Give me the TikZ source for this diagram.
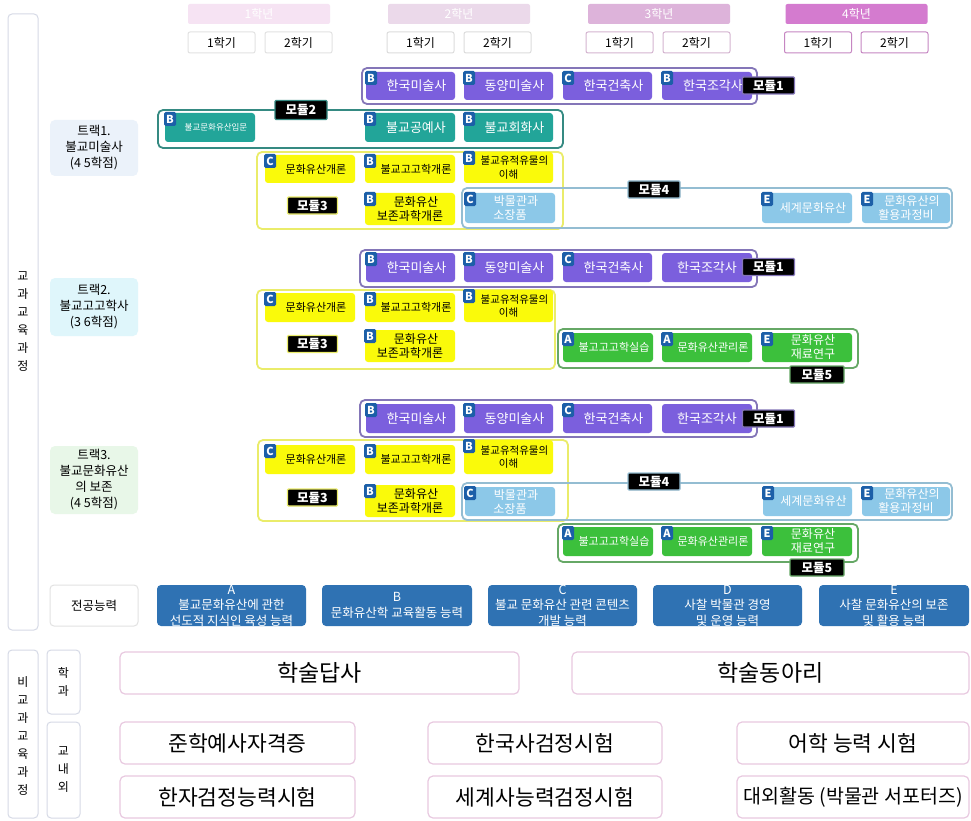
\documentclass[tikz,border=0pt]{standalone}
\usepackage{fontspec}
\setmainfont{Noto Sans CJK KR}
\definecolor{purC}{HTML}{7B5FDD}
\definecolor{purL}{HTML}{8476B8}
\definecolor{tealC}{HTML}{22A599}
\definecolor{tealL}{HTML}{358A82}
\definecolor{yelC}{HTML}{FAFA0A}
\definecolor{yelL}{HTML}{EAEC6A}
\definecolor{lbC}{HTML}{8CC8E8}
\definecolor{lbL}{HTML}{94BDD2}
\definecolor{grnC}{HTML}{3CC03C}
\definecolor{grnL}{HTML}{66A866}
\definecolor{bdgC}{HTML}{1C5FA8}
\definecolor{cmpC}{HTML}{2F72B3}
\definecolor{pinkL}{HTML}{E8C9E0}
\definecolor{grayL}{HTML}{D6DAE6}
\definecolor{yA}{HTML}{F6E3F3}
\definecolor{yB}{HTML}{EBD9EA}
\definecolor{yC}{HTML}{DDB3DA}
\definecolor{yD}{HTML}{D47BCF}
\definecolor{sA}{HTML}{E2E2E2}
\definecolor{sB}{HTML}{DCDCDC}
\definecolor{sC}{HTML}{D4B4D0}
\definecolor{sD}{HTML}{C686C2}
\definecolor{tA}{HTML}{EBF2FA}
\definecolor{tB}{HTML}{DFF6FB}
\definecolor{tC}{HTML}{E8F7E8}
\newcommand\crs[7]{\node[#2, minimum width={(#5-#3)*1pt}, minimum height={(#6-#4)*1pt}] (#1) at ({(#3+#5)/2},{(#4+#6)/2}) {#7};}
\newcommand\bdg[2]{\node[badgebox] (#1b) at ([xshift=-1pt,yshift=1pt]#1.north west) {#2};}
\newcommand\pd[1]{\hspace*{12pt}#1}
\tikzset{
  crsbase/.style={rounded corners=3pt, inner sep=0pt, align=center, font=\fontsize{13}{15}\selectfont},
  crsp/.style={crsbase, fill=purC, text=white},
  crst/.style={crsbase, fill=tealC, text=white},
  crsy/.style={crsbase, fill=yelC, text=black, font=\fontsize{12.5}{14}\selectfont},
  crsl/.style={crsbase, fill=lbC, text=white, font=\fontsize{12}{14}\selectfont},
  crsg/.style={crsbase, fill=grnC, text=white, font=\fontsize{12.5}{14}\selectfont},
  two/.style={font=\fontsize{12}{14}\selectfont},
  sm/.style={font=\fontsize{11}{13}\selectfont},
  xs/.style={font=\fontsize{10.5}{13.5}\selectfont},
  modbox/.style={rounded corners=5pt, line width=1.8pt, inner sep=0pt},
  modlab/.style={fill=black, text=white, line width=1.2pt, rounded corners=1pt, inner sep=0pt, minimum width=52pt, minimum height=17pt, font=\fontsize{12.5}{13}\selectfont\bfseries},
  badgebox/.style={anchor=north west, fill=bdgC, text=white, inner sep=0pt, minimum width=12pt, minimum height=14pt, rounded corners=1.5pt, font=\fontsize{11}{11}\selectfont\bfseries},
  yrhead/.style={rounded corners=2pt, inner sep=0pt, minimum width=142pt, minimum height=20pt, text=white, font=\fontsize{12}{13}\selectfont},
  sem/.style={rounded corners=2pt, inner sep=0pt, minimum width=67pt, minimum height=21pt, fill=white, line width=1pt, font=\fontsize{12}{13}\selectfont},
  trk/.style={rounded corners=5pt, inner sep=0pt, align=center, font=\fontsize{12.5}{16}\selectfont},
  outer/.style={draw=grayL, line width=1pt, rounded corners=4pt, inner sep=0pt, fill=white},
  vtext/.style={align=center, inner sep=0pt, font=\fontsize{12}{18}\selectfont},
  cmp/.style={fill=cmpC, rounded corners=4pt, inner sep=0pt},
  cmptxt/.style={align=center, inner sep=0pt, text=white, font=\fontsize{12.5}{15.5}\selectfont},
  pbox/.style={draw=pinkL, line width=1.2pt, rounded corners=5pt, inner sep=0pt, fill=white},
}
\begin{document}
\begin{tikzpicture}[x=1pt,y=-1pt]
\useasboundingbox[fill=white] (0,0) rectangle (971,821);
% left frames
\crs{lf1}{outer}{8}{14}{38}{630}{}
\node[vtext] (lf1t) at (23,322) {교\\과\\교\\육\\과\\정};
\crs{lf2}{outer}{8}{650}{38}{818}{}
\node[vtext] (lf2t) at (23,736) {비\\교\\과\\교\\육\\과\\정};
\crs{lf3}{outer}{47}{650}{80}{714}{}
\node[vtext] (lf3t) at (63.5,682) {학\\과};
\crs{lf4}{outer}{47}{722}{80}{818}{}
\node[vtext] (lf4t) at (63.5,770) {교\\내\\외};
% header
\node[yrhead, fill=yA] (y1) at (259,14) {1학년};
\node[yrhead, fill=yB] (y2) at (459,14) {2학년};
\node[yrhead, fill=yC] (y3) at (659,14) {3학년};
\node[yrhead, fill=yD] (y4) at (856.5,14) {4학년};
\node[sem, draw=sA] (y1a) at (221.5,42.5) {1학기};
\node[sem, draw=sA] (y1b) at (298.5,42.5) {2학기};
\node[sem, draw=sB] (y2a) at (420.5,42.5) {1학기};
\node[sem, draw=sB] (y2b) at (497.5,42.5) {2학기};
\node[sem, draw=sC] (y3a) at (619.5,42.5) {1학기};
\node[sem, draw=sC] (y3b) at (696.5,42.5) {2학기};
\node[sem, draw=sD] (y4a) at (818,42.5) {1학기};
\node[sem, draw=sD] (y4b) at (894.5,42.5) {2학기};
% track labels
\crs{tr1}{trk, fill=tA}{50}{120}{138}{176}{트랙1.\\불교미술사\\(4 5학점)}
\crs{tr2}{trk, fill=tB}{50}{278}{138}{336}{트랙2.\\불교고고학사\\(3 6학점)}
\crs{tr3}{trk, fill=tC}{50}{446}{138}{514}{트랙3.\\불교문화유산\\의 보존\\(4 5학점)}

%%%%% TRACK 1
\crs{a1}{modbox, draw=purL}{362}{68}{757}{104}{}
\crs{a2}{modbox, draw=tealL}{158}{110}{563}{148}{}
\crs{a3}{modbox, draw=yelL}{257}{152}{563}{229}{}
\crs{a4}{modbox, draw=lbL}{462}{188}{952}{228}{}
\crs{a1c1}{crsp}{366}{72}{455}{100}{\pd{한국미술사}}\bdg{a1c1}{B}
\crs{a1c2}{crsp}{464}{72}{553}{100}{\pd{동양미술사}}\bdg{a1c2}{B}
\crs{a1c3}{crsp}{563}{72}{652}{100}{\pd{한국건축사}}\bdg{a1c3}{C}
\crs{a1c4}{crsp}{662}{72}{752}{100}{\pd{한국조각사}}\bdg{a1c4}{B}
\crs{a2c1}{crst, font=\fontsize{8.5}{10}\selectfont}{165}{113}{255}{142}{\pd{불교문화유산입문}}\bdg{a2c1}{B}
\crs{a2c2}{crst}{365}{113}{455}{142}{\pd{불교공예사}}\bdg{a2c2}{B}
\crs{a2c3}{crst}{464}{113}{553}{142}{\pd{불교회화사}}\bdg{a2c3}{B}
\crs{a3c1}{crsy, sm}{265}{155}{355}{183}{\pd{문화유산개론}}\bdg{a3c1}{C}
\crs{a3c2}{crsy, sm}{365}{155}{455}{183}{\pd{불교고고학개론}}\bdg{a3c2}{B}
\crs{a3c3}{crsy, xs}{464}{152}{553}{183}{\pd{불교유적유물의}\\이해}\bdg{a3c3}{B}
\crs{a3c4}{crsy, two}{365}{193}{455}{225}{\pd{문화유산}\\보존과학개론}\bdg{a3c4}{B}
\crs{a4c1}{crsl}{465}{193}{555}{223}{\pd{박물관과}\\소장품}\bdg{a4c1}{C}
\crs{a4c2}{crsl}{762}{193}{852}{223}{\pd{세계문화유산}}\bdg{a4c2}{E}
\crs{a4c3}{crsl}{862}{193}{950}{223}{\pd{문화유산의}\\활용과정비}\bdg{a4c3}{E}
\node[modlab, draw=purL] (a1l) at (768.5,85.5) {모듈1};
\node[modlab, draw=tealL, minimum height=19pt] (a2l) at (301,110) {모듈2};
\node[modlab, draw=yelL, minimum width=50pt] (a3l) at (312.5,205.5) {모듈3};
\node[modlab, draw=lbL] (a4l) at (654,189.5) {모듈4};

%%%%% TRACK 2
\crs{b1}{modbox, draw=purL}{360}{250}{757}{287}{}
\crs{b3}{modbox, draw=yelL}{257}{290}{555}{369}{}
\crs{b5}{modbox, draw=grnL}{558}{329}{858}{368}{}
\crs{b1c1}{crsp}{366}{253}{455}{282}{\pd{한국미술사}}\bdg{b1c1}{B}
\crs{b1c2}{crsp}{464}{253}{553}{282}{\pd{동양미술사}}\bdg{b1c2}{B}
\crs{b1c3}{crsp}{563}{253}{652}{282}{\pd{한국건축사}}\bdg{b1c3}{C}
\crs{b1c4}{crsp}{662}{253}{752}{282}{한국조각사}
\crs{b3c1}{crsy, sm}{265}{293}{355}{322}{\pd{문화유산개론}}\bdg{b3c1}{C}
\crs{b3c2}{crsy, sm}{365}{293}{455}{322}{\pd{불교고고학개론}}\bdg{b3c2}{B}
\crs{b3c3}{crsy, xs}{464}{290}{553}{322}{\pd{불교유적유물의}\\이해}\bdg{b3c3}{B}
\crs{b3c4}{crsy, two}{365}{330}{455}{362}{\pd{문화유산}\\보존과학개론}\bdg{b3c4}{B}
\crs{b5c1}{crsg, sm}{563}{333}{653}{362}{\pd{불고고고학실습}}\bdg{b5c1}{A}
\crs{b5c2}{crsg, sm}{662}{333}{752}{362}{\pd{문화유산관리론}}\bdg{b5c2}{A}
\crs{b5c3}{crsg, two}{762}{333}{852}{362}{\pd{문화유산}\\\pd{재료연구}}\bdg{b5c3}{E}
\node[modlab, draw=purL] (b1l) at (768.5,267) {모듈1};
\node[modlab, draw=yelL, minimum width=50pt] (b3l) at (312.5,344) {모듈3};
\node[modlab, draw=grnL, minimum width=54pt] (b5l) at (817,374.5) {모듈5};

%%%%% TRACK 3
\crs{c1}{modbox, draw=purL}{360}{400}{757}{437}{}
\crs{c3}{modbox, draw=yelL}{258}{440}{568}{521}{}
\crs{c4}{modbox, draw=lbL}{462}{483}{952}{520}{}
\crs{c5}{modbox, draw=grnL}{558}{524}{858}{562}{}
\crs{c1c1}{crsp}{366}{404}{455}{433}{\pd{한국미술사}}\bdg{c1c1}{B}
\crs{c1c2}{crsp}{464}{404}{553}{433}{\pd{동양미술사}}\bdg{c1c2}{B}
\crs{c1c3}{crsp}{563}{404}{652}{433}{\pd{한국건축사}}\bdg{c1c3}{C}
\crs{c1c4}{crsp}{662}{404}{752}{433}{한국조각사}
\crs{c3c1}{crsy, sm}{265}{445}{355}{474}{\pd{문화유산개론}}\bdg{c3c1}{C}
\crs{c3c2}{crsy, sm}{365}{445}{455}{474}{\pd{불교고고학개론}}\bdg{c3c2}{B}
\crs{c3c3}{crsy, xs}{464}{440}{553}{474}{\pd{불교유적유물의}\\이해}\bdg{c3c3}{B}
\crs{c3c4}{crsy, two}{365}{485}{455}{517}{\pd{문화유산}\\보존과학개론}\bdg{c3c4}{B}
\crs{c4c1}{crsl}{465}{487}{555}{516}{\pd{박물관과}\\소장품}\bdg{c4c1}{C}
\crs{c4c2}{crsl}{763}{487}{852}{516}{\pd{세계문화유산}}\bdg{c4c2}{E}
\crs{c4c3}{crsl}{862}{487}{950}{516}{\pd{문화유산의}\\활용과정비}\bdg{c4c3}{E}
\crs{c5c1}{crsg, sm}{563}{527}{653}{556}{\pd{불고고고학실습}}\bdg{c5c1}{A}
\crs{c5c2}{crsg, sm}{662}{527}{752}{556}{\pd{문화유산관리론}}\bdg{c5c2}{A}
\crs{c5c3}{crsg, two}{762}{527}{852}{556}{\pd{문화유산}\\\pd{재료연구}}\bdg{c5c3}{E}
\node[modlab, draw=purL] (c1l) at (768.5,418.5) {모듈1};
\node[modlab, draw=yelL, minimum width=50pt] (c3l) at (312.5,497.5) {모듈3};
\node[modlab, draw=lbL] (c4l) at (654,481.5) {모듈4};
\node[modlab, draw=grnL, minimum width=54pt] (c5l) at (817,567.5) {모듈5};

%%%%% competencies
\crs{cmp0}{outer, draw=sA, font=\fontsize{12.5}{14}\selectfont}{50}{585}{138}{626}{전공능력}
\crs{cmpA}{cmp, path picture={\node[cmptxt] (cmpAt) at (path picture bounding box.center) {A\\불교문화유산에 관한\\선도적 지식인 육성 능력};}}{157}{585}{306}{626}{}
\crs{cmpB}{cmp, path picture={\node[cmptxt] (cmpBt) at (path picture bounding box.center) {B\\문화유산학 교육활동 능력};}}{322}{585}{472}{626}{}
\crs{cmpC}{cmp, path picture={\node[cmptxt] (cmpCt) at (path picture bounding box.center) {C\\불교 문화유산 관련 콘텐츠\\개발 능력};}}{488}{585}{637}{626}{}
\crs{cmpD}{cmp, path picture={\node[cmptxt] (cmpDt) at (path picture bounding box.center) {D\\사찰 박물관 경영\\및 운영 능력};}}{653}{585}{802}{626}{}
\crs{cmpE}{cmp, path picture={\node[cmptxt] (cmpEt) at (path picture bounding box.center) {E\\사찰 문화유산의 보존\\및 활용 능력};}}{819}{585}{969}{626}{}

%%%%% extracurricular
\crs{x1}{pbox, font=\fontsize{23}{26}\selectfont}{120}{652}{519}{694}{학술답사}
\crs{x2}{pbox, font=\fontsize{23}{26}\selectfont}{572}{652}{969}{694}{학술동아리}
\crs{x3}{pbox, font=\fontsize{21.5}{24}\selectfont}{120}{722}{355}{764}{준학예사자격증}
\crs{x4}{pbox, font=\fontsize{21.5}{24}\selectfont}{428}{722}{662}{764}{한국사검정시험}
\crs{x5}{pbox, font=\fontsize{21.5}{24}\selectfont}{737}{722}{969}{764}{어학 능력 시험}
\crs{x6}{pbox, font=\fontsize{21.5}{24}\selectfont}{120}{776}{355}{818}{한자검정능력시험}
\crs{x7}{pbox, font=\fontsize{21.5}{24}\selectfont}{428}{776}{662}{818}{세계사능력검정시험}
\crs{x8}{pbox, font=\fontsize{19.5}{22}\selectfont}{737}{776}{969}{818}{대외활동 (박물관 서포터즈)}
\end{tikzpicture}
\end{document}
